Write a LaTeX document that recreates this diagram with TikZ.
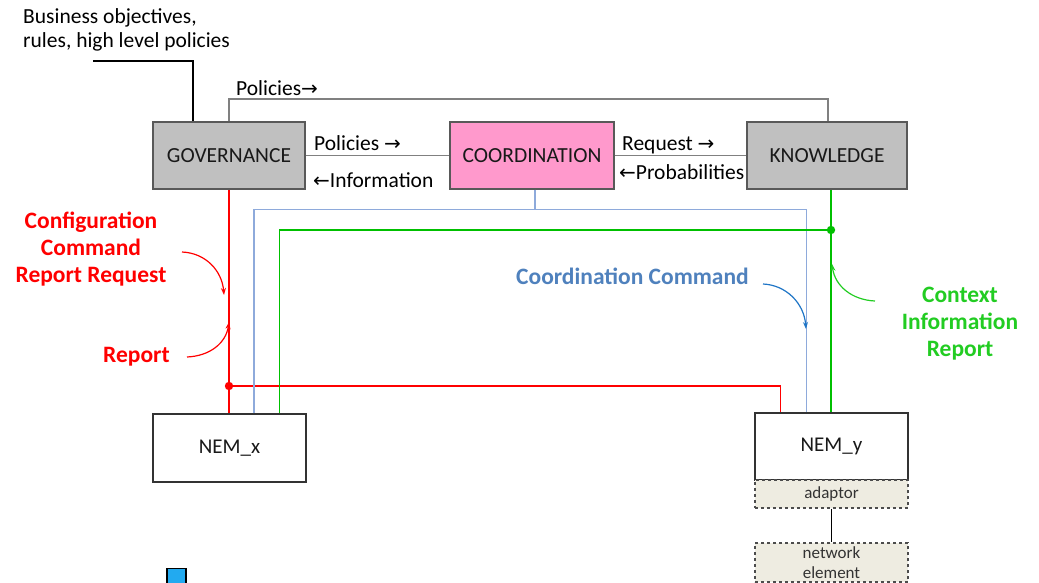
\documentclass[tikz,border=0pt]{standalone}
\usepackage{fontspec}
\setmainfont{Carlito}
\newfontfamily\arrowfont{DejaVu Sans}
\usetikzlibrary{arrows.meta}
\newcommand{\ra}{{\arrowfont\fontsize{20}{22}\selectfont →}}
\newcommand{\la}{{\arrowfont\fontsize{20}{22}\selectfont ←}}
\definecolor{boxgray}{HTML}{C0C0C0}
\definecolor{boxedge}{HTML}{595959}
\definecolor{coordpink}{HTML}{FF99CC}
\definecolor{linkgray}{HTML}{808080}
\definecolor{redlink}{HTML}{FF0000}
\definecolor{bluelink}{HTML}{8EAADB}
\definecolor{bluetext}{HTML}{4F81BD}
\definecolor{bluearrow}{HTML}{1F75C6}
\definecolor{greenlink}{HTML}{00C000}
\definecolor{greentext}{HTML}{22CC22}
\definecolor{adaptfill}{HTML}{EEECE1}
\definecolor{squareblue}{HTML}{22AAF0}
\tikzset{
  blockbox/.style={draw=boxedge, line width=1.3pt, minimum width=#1, minimum height=67pt,
    inner sep=0pt, font=\fontsize{21.5}{24}\selectfont, text=black!90},
  nembox/.style={draw=black!80, line width=1.4pt, fill=white, minimum width=153pt,
    inner sep=0pt, font=\fontsize{21}{24}\selectfont, text=black!90},
  dashbox/.style={draw=black!70, dashed, line width=1.3pt, fill=adaptfill, minimum width=153pt,
    inner sep=0pt, font=\fontsize{17}{20}\selectfont, text=black!80, align=center},
  graylink/.style={draw=linkgray, line width=1.2pt},
  redline/.style={draw=redlink, line width=1.15pt},
  blueline/.style={draw=bluelink, line width=1.15pt},
  greenline/.style={draw=greenlink, line width=1.15pt},
  lbl/.style={anchor=west, inner sep=0pt, font=\fontsize{21.5}{24}\selectfont, text=black},
  note/.style={inner sep=0pt, align=center, font=\bfseries\fontsize{23.5}{27}\selectfont},
  bend arrow/.style={line width=1.2pt, -{Stealth[length=7pt,width=5pt]}},
}
\begin{document}
\begin{tikzpicture}[x=1pt,y=-1pt]
\useasboundingbox (0,0) rectangle (1039,583);

% main blocks
\node[blockbox=152pt, fill=boxgray] (gov) at (229,155.5) {GOVERNANCE};
\node[blockbox=164pt, fill=coordpink] (coord) at (532,155.5) {COORDINATION};
\node[blockbox=160pt, fill=boxgray] (know) at (827,155.5) {KNOWLEDGE};

% managed elements
\node[nembox, minimum height=68pt] (nemx) at (229.5,448) {NEM\_x};
\node[nembox, minimum height=67pt] (nemy) at (831.5,446.5) {NEM\_y};
\node[dashbox, minimum height=28pt] (adapt) at (831.5,494) {adaptor};
\node[dashbox, minimum height=39pt] (netel) at (831.5,562.5) {network\\element};
\draw[black, line width=1.2pt] (adapt.south) -- (netel.north);

% business input
\node[lbl, align=left, anchor=west] (biz) at (23,30) {Business objectives,\\rules, high level policies};
\coordinate (b1) at (93,61);
\coordinate (b2) at (193,61);
\draw[black, line width=1.1pt] (b1) -- (b2) -- (b2 |- gov.north);

% policies to knowledge
\coordinate (pL) at (229,99);
\coordinate (pR) at (828,99);
\draw[graylink] (gov.north -| pL) -- (pL) -- (pR) -- (know.north -| pR);
\node[lbl] (pol1) at (236,88) {Policies\ra};

% governance <-> coordination <-> knowledge
\draw[graylink] (gov.east) -- (coord.west);
\draw[graylink] (coord.east) -- (know.west);
\node[lbl] (pol2) at (314,143) {Policies \ra};
\node[lbl] (info) at (313,180) {\la Information};
\node[lbl] (req) at (622,145) {Request \ra};
\node[lbl] (prob) at (619,172) {\la Probabilities};

% red: configuration / report path
\coordinate (rdot) at (229,386);
\coordinate (rR) at (780.5,386);
\draw[redline] (gov.south) -- (gov.south |- nemx.north);
\draw[redline] (rdot) -- (rR) -- (rR |- nemy.north);
\fill[redlink] (rdot) circle (4.2);

% blue: coordination command path
\coordinate (bj) at (535,209.5);
\coordinate (bL) at (254,209.5);
\coordinate (bR) at (806.5,209.5);
\draw[blueline] (coord.south -| bj) -- (bj);
\draw[blueline] (bL |- nemx.north) -- (bL) -- (bR) -- (bR |- nemy.north);

% green: context information path
\coordinate (gdot) at (831,230);
\coordinate (gL) at (279.5,230);
\draw[greenline] (know.south -| gdot) -- (gdot |- nemy.north);
\draw[greenline] (gdot) -- (gL) -- (gL |- nemx.north);
\fill[greenlink] (gdot) circle (4.2);

% annotations
\node[note, text=redlink] (cfg) at (91,249) {Configuration\\Command\\Report Request};
\node[note, text=redlink, anchor=west] (rep) at (103,357) {Report};
\node[note, text=bluetext, anchor=west] (cc) at (516,276) {Coordination Command};
\node[note, text=greentext] (ctx) at (960,323.5) {Context\\Information\\Report};

\coordinate (a1s) at (182,252);
\coordinate (a1e) at (224,295);
\draw[bend arrow, redlink] (a1s) .. controls (206,253) and (222,271) .. (a1e);
\coordinate (a2s) at (187,357);
\coordinate (a2e) at (229,322);
\draw[bend arrow, redlink] (a2s) .. controls (210,356) and (226,343) .. (a2e);
\coordinate (a3s) at (763,284);
\coordinate (a3e) at (806,329);
\draw[bend arrow, bluearrow] (a3s) .. controls (786,285) and (804,303) .. (a3e);
\coordinate (a4s) at (875,301);
\coordinate (a4e) at (832,264);
\draw[bend arrow, greentext] (a4s) .. controls (852,300) and (835,286) .. (a4e);

% small marker at the lower edge
\begin{scope}
\clip (0,0) rectangle (1039,583);
\draw[black, line width=1.6pt, fill=squareblue] (167,568.5) rectangle (186,600);
\end{scope}
\end{tikzpicture}
\end{document}
